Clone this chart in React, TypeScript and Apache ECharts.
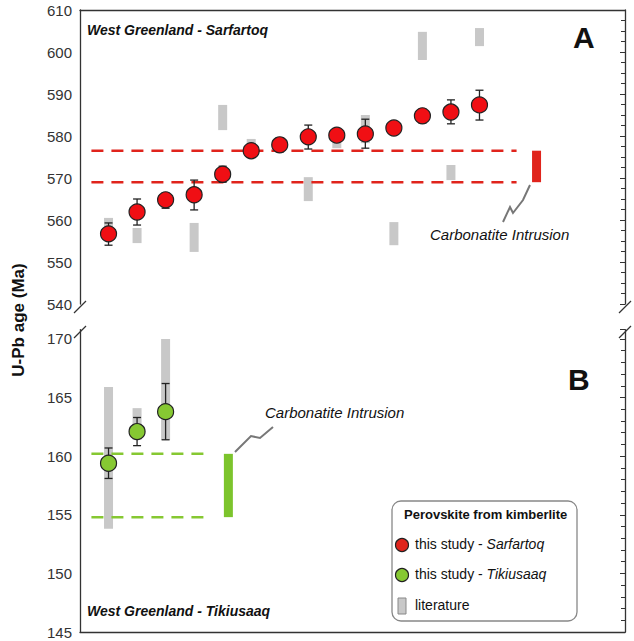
import { useEffect, useRef } from 'react';
import * as echarts from 'echarts';

// panel A (Sarfartoq): sample index, age, error low/high
const sarIdx = [1, 2, 3, 4, 5, 6, 7, 8, 9, 10, 11, 12, 13, 14];
const sarAge = [556.7, 561.9, 564.8, 566, 570.9, 576.5, 577.9, 579.8, 580.2, 580.5, 581.9, 584.8, 585.7, 587.4];
const sarLow = [554, 558.8, 562.8, 562.4, 569, 575, 576.2, 576.9, 578.8, 577.1, 581.2, 583.1, 582.9, 583.8];
const sarHigh = [559.3, 565, 566.4, 569.5, 572.8, 578.1, 579.5, 582.6, 581.6, 584, 582.6, 586.4, 588.6, 590.9];
// literature ranges panel A: [index, min, max]
const sarLit: number[][] = [
  [1, 557.6, 560.5], [2, 554.5, 558.1], [4, 552.4, 559.3], [5, 581.4, 587.4], [6, 577.4, 579.3],
  [8, 564.5, 570.2], [9, 577.1, 579], [10, 578.3, 585], [11, 554, 559.5], [12, 598.1, 604.8],
  [13, 569.5, 573.1], [14, 601.4, 605.7],
];
const sarIntrusion = [569, 576.5];

// panel B (Tikiusaaq)
const tikIdx = [1, 2, 3];
const tikAge = [159.4, 162.1, 163.8];
const tikLow = [158.1, 160.9, 161.4];
const tikHigh = [160.7, 163.3, 166.2];
const tikLit: number[][] = [[1, 153.8, 165.9], [2, 161.4, 164.1], [3, 161.4, 170]];
const tikIntrusion = [154.8, 160.2];

const RED = '#f00f14';
const GREEN = '#86c832';
const GREY = '#c8c8c8';
const AXIS = '#333';
const FONT = 'Arial, "Liberation Sans", sans-serif';

function errBars(xi: number, yi: number, idx: number[], lo: number[], hi: number[]) {
  return {
    type: 'custom', xAxisIndex: xi, yAxisIndex: yi, z: 3,
    data: idx.map((x, i) => [x, lo[i], hi[i]]),
    renderItem: (_p: any, api: any) => {
      const a = api.coord([api.value(0), api.value(1)]);
      const b = api.coord([api.value(0), api.value(2)]);
      const s = { stroke: '#222', lineWidth: 1.3 };
      return {
        type: 'group', children: [
          { type: 'line', shape: { x1: a[0], y1: a[1], x2: b[0], y2: b[1] }, style: s },
          { type: 'line', shape: { x1: a[0] - 4, y1: a[1], x2: a[0] + 4, y2: a[1] }, style: s },
          { type: 'line', shape: { x1: b[0] - 4, y1: b[1], x2: b[0] + 4, y2: b[1] }, style: s },
        ],
      };
    },
  };
}

function rects(xi: number, yi: number, data: number[][], color: string, z: number) {
  return {
    type: 'custom', xAxisIndex: xi, yAxisIndex: yi, z,
    data,
    renderItem: (_p: any, api: any) => {
      const a = api.coord([api.value(0), api.value(2)]);
      const b = api.coord([api.value(0), api.value(1)]);
      return { type: 'rect', shape: { x: a[0] - 4.5, y: a[1], width: 9, height: b[1] - a[1] }, style: { fill: color } };
    },
  };
}

function dashed(xi: number, yi: number, x0: number, x1: number, y: number, color: string) {
  return {
    type: 'line', xAxisIndex: xi, yAxisIndex: yi, symbol: 'none', z: 2,
    data: [[x0, y], [x1, y]],
    lineStyle: { color, width: 2.5, type: [12, 8] },
  };
}

export default function App() {
  const ref = useRef<HTMLDivElement>(null);
  useEffect(() => {
    if (!ref.current) return;
    const chart = echarts.init(ref.current, undefined, { renderer: 'svg' });
    const xAx = (gi: number, pos: string) => ({
      type: 'value', gridIndex: gi, min: 0, max: 19.1, position: pos,
      axisLine: { show: true, onZero: false, lineStyle: { color: AXIS, width: 1.3 } },
      axisTick: { show: false }, axisLabel: { show: false }, splitLine: { show: false },
    });
    const yLeft = (gi: number, min: number, max: number, interval: number) => ({
      type: 'value', gridIndex: gi, min, max, interval, position: 'left',
      axisLine: { show: true, lineStyle: { color: AXIS, width: 1.3 } },
      axisTick: { show: false }, splitLine: { show: false },
      axisLabel: { color: '#333', fontSize: 15, fontFamily: FONT, margin: 8, showMaxLabel: max % interval === 0 },
    });
    const yRight = (gi: number, min: number, max: number, interval: number, split: number) => ({
      type: 'value', gridIndex: gi, min, max, interval, position: 'right',
      axisLine: { show: true, lineStyle: { color: AXIS, width: 1.3 } },
      axisTick: { show: true, inside: true, length: 5, lineStyle: { color: AXIS } },
      minorTick: { show: true, splitNumber: split, length: 4, lineStyle: { color: AXIS } },
      axisLabel: { show: false }, splitLine: { show: false },
    });
    const itemStyle = (c: string) => ({ color: c, borderColor: '#222', borderWidth: 1.2, opacity: 1 });
    const txt = (x: number, y: number, text: string, font: any) =>
      ({ type: 'text', x, y, z: 60, style: { text, fill: '#111', fontFamily: FONT, ...font } });
    const brk = (x: number, y: number) => ({ type: 'line', z: 60, shape: { x1: x - 6, y1: y + 6, x2: x + 6, y2: y - 6 }, style: { stroke: AXIS, lineWidth: 1.3 } });
    chart.setOption({
      animation: false,
      grid: [
        { left: 80, right: 9, top: 10, height: 294 },
        { left: 80, right: 9, top: 329.6, height: 302.4 },
      ],
      xAxis: [xAx(0, 'top'), xAx(1, 'bottom')],
      yAxis: [
        yLeft(0, 540, 610, 10), yRight(0, 540, 610, 10, 4),
        yLeft(1, 145, 170.8, 5), yRight(1, 145, 170.8, 5, 5),
      ],
      series: [
        rects(0, 0, sarLit, GREY, 1),
        rects(0, 0, [[16, sarIntrusion[0], sarIntrusion[1]]], '#e0241c', 2),
        dashed(0, 0, 0.4, 15.3, sarIntrusion[0], '#e0241c'),
        dashed(0, 0, 0.4, 15.3, sarIntrusion[1], '#e0241c'),
        errBars(0, 0, sarIdx, sarLow, sarHigh),
        { type: 'scatter', xAxisIndex: 0, yAxisIndex: 0, z: 4, symbolSize: 16, itemStyle: itemStyle(RED), data: sarIdx.map((x, i) => [x, sarAge[i]]) },
        rects(1, 2, tikLit, GREY, 1),
        rects(1, 2, [[5.2, tikIntrusion[0], tikIntrusion[1]]], '#7cc42c', 2),
        dashed(1, 2, 0.4, 4.5, tikIntrusion[0], GREEN),
        dashed(1, 2, 0.4, 4.5, tikIntrusion[1], GREEN),
        errBars(1, 2, tikIdx, tikLow, tikHigh),
        { type: 'scatter', xAxisIndex: 1, yAxisIndex: 2, z: 4, symbolSize: 16, itemStyle: itemStyle(GREEN), data: tikIdx.map((x, i) => [x, tikAge[i]]) },
      ],
      graphic: [
        { type: 'rect', left: 40, top: 312, shape: { width: 600, height: 14 }, style: { fill: '#fff' }, z: 50 },
        brk(80, 307), brk(625, 307), brk(80, 332), brk(625, 332),
        txt(87, 23, 'West Greenland - Sarfartoq', { fontSize: 14, fontWeight: 'bold', fontStyle: 'italic' }),
        txt(87, 604, 'West Greenland - Tikiusaaq', { fontSize: 14, fontWeight: 'bold', fontStyle: 'italic' }),
        txt(573, 22, 'A', { fontSize: 30, fontWeight: 'bold' }),
        txt(568, 364, 'B', { fontSize: 30, fontWeight: 'bold' }),
        txt(430, 227, 'Carbonatite Intrusion', { fontSize: 15, fontStyle: 'italic' }),
        txt(265, 405, 'Carbonatite Intrusion', { fontSize: 15, fontStyle: 'italic' }),
        { type: 'polyline', shape: { points: [[530, 185], [523, 200], [513, 213], [510, 207], [503, 222]] }, style: { stroke: '#777', lineWidth: 2, fill: 'none' } },
        { type: 'polyline', shape: { points: [[235, 452], [251, 436], [260, 438], [273, 427]] }, style: { stroke: '#777', lineWidth: 2, fill: 'none' } },
        { type: 'text', x: 18, y: 320, z: 60, rotation: Math.PI / 2, style: { text: 'U-Pb age (Ma)', fontSize: 17, fontWeight: 'bold', fontFamily: FONT, fill: '#111', align: 'center', verticalAlign: 'middle' } },
        { type: 'rect', shape: { x: 392, y: 501, width: 185, height: 120, r: 9 }, style: { fill: '#fff', stroke: '#888', lineWidth: 1.3 } },
        txt(404, 508, 'Perovskite from kimberlite', { fontSize: 13, fontWeight: 'bold' }),
        { type: 'circle', z: 60, shape: { cx: 402, cy: 545, r: 6.5 }, style: { fill: '#e0241c', stroke: '#222', lineWidth: 1.2 } },
        { type: 'circle', z: 60, shape: { cx: 402, cy: 575, r: 6.5 }, style: { fill: GREEN, stroke: '#222', lineWidth: 1.2 } },
        { type: 'rect', z: 60, shape: { x: 398, y: 598, width: 8, height: 16 }, style: { fill: GREY, stroke: '#888', lineWidth: 1 } },
        { type: 'text', x: 415, y: 537, z: 60, style: { rich: { n: { fontSize: 14, fontFamily: FONT, fill: '#111' }, i: { fontSize: 14, fontFamily: FONT, fill: '#111', fontStyle: 'italic' } }, text: '{n|this study - }{i|Sarfartoq}' } },
        { type: 'text', x: 415, y: 567, z: 60, style: { rich: { n: { fontSize: 14, fontFamily: FONT, fill: '#111' }, i: { fontSize: 14, fontFamily: FONT, fill: '#111', fontStyle: 'italic' } }, text: '{n|this study - }{i|Tikiusaaq}' } },
        txt(415, 598, 'literature', { fontSize: 14 }),
      ],
    });
    return () => chart.dispose();
  }, []);
  return <div ref={ref} style={{ position: 'absolute', left: 0, top: 0, width: 634, height: 641 }} />;
}
